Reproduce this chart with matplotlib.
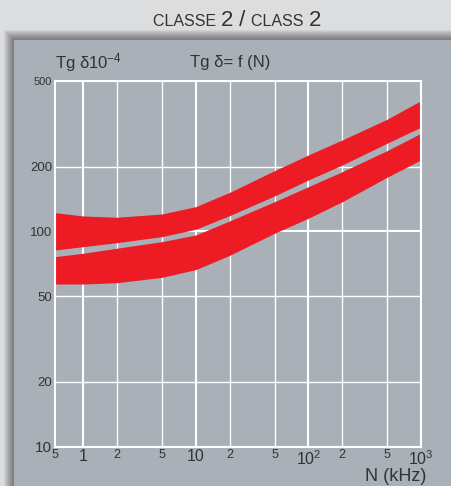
import numpy as np
import matplotlib
matplotlib.use("Agg")
import matplotlib.pyplot as plt
from matplotlib.patches import Rectangle
from matplotlib.offsetbox import TextArea, HPacker, AnnotationBbox

plt.rcParams['font.family'] = ['Liberation Sans', 'DejaVu Sans']
plt.rcParams['mathtext.fontset'] = 'custom'
plt.rcParams['mathtext.rm'] = 'Liberation Sans'
plt.rcParams['mathtext.it'] = 'Liberation Sans'

# frequency N in kHz
freq = [0.561, 1, 2, 5, 10, 20, 50, 100, 200, 500, 1000]
# Tg delta (x 10^-4), upper band
upper_top = [122.3, 118.0, 116.4, 120.6, 130.4, 152.0, 191.6, 226.8, 266.2, 332.2, 405.3]
upper_bot = [82.0, 85.0, 88.7, 94.6, 102.4, 118.5, 146.2, 173.5, 203.7, 257.0, 305.0]
# lower band
lower_top = [76.4, 79.2, 83.6, 89.7, 96.3, 112.0, 137.5, 161.5, 189.6, 237.4, 286.0]
lower_bot = [57.0, 57.0, 57.8, 61.2, 66.5, 77.5, 98.1, 115.2, 137.5, 178.6, 214.9]

xtick_pos = [0.561, 1, 2, 5, 10, 20, 50, 100, 200, 500, 1000]
xtick_lab = ["5", "1", "2", "5", "10", "2", "5", "10$^2$", "2", "5", "10$^3$"]
xtick_size = [9, 11.5, 9, 9, 11.5, 9, 9, 11.5, 9, 9, 11.5]
ytick_pos = [10, 20, 50, 100, 200, 500]
ytick_lab = ["10", "20", "50", "100", "200", "500"]
ytick_size = [11, 9.5, 9.5, 9.5, 9.5, 8]

W, H = 452, 486
bg = "#dcdddf"
panel = "#a9b0b7"
red = "#ed1c24"
txt = "#333333"

fig = plt.figure(figsize=(W / 100, H / 100), dpi=100)
fig.patch.set_facecolor(bg)

# panel shadow
for s in range(10, 0, -1):
    fig.add_artist(Rectangle(((14 - s) / W, 0), 1, (H - 40 + s) / H,
                             transform=fig.transFigure, facecolor="black",
                             alpha=0.05, edgecolor="none", zorder=-10))
fig.add_artist(Rectangle((14 / W, 0), 1, (H - 40) / H, transform=fig.transFigure,
                         facecolor=panel, edgecolor="none", zorder=-5))

ax = fig.add_axes([55 / W, 1 - 446.7 / H, (421 - 55) / W, (446.7 - 81) / H])
ax.set_facecolor(panel)
ax.set_xscale("log")
ax.set_yscale("log")
ax.set_xlim(0.561, 1000)
ax.set_ylim(10, 500)

# grid
for x in [1, 2, 5, 10, 20, 50, 100, 200, 500]:
    lw = 1.5 if x in (1, 10, 100) else 1.0
    ax.axvline(x, color="white", lw=lw, zorder=1)
for y in [20, 50, 100, 200]:
    lw = 1.5 if y == 100 else 1.0
    ax.axhline(y, color="white", lw=lw, zorder=1)

ax.fill_between(freq, upper_bot, upper_top, color=red, lw=0, zorder=2)
ax.fill_between(freq, lower_bot, lower_top, color=red, lw=0, zorder=2)

for sp in ax.spines.values():
    sp.set_color("white")
    sp.set_linewidth(1.5)
    sp.set_zorder(3)

ax.xaxis.set_minor_locator(matplotlib.ticker.NullLocator())
ax.yaxis.set_minor_locator(matplotlib.ticker.NullLocator())
ax.set_xticks(xtick_pos)
ax.set_xticklabels(xtick_lab)
ax.set_yticks(ytick_pos)
ax.set_yticklabels(ytick_lab)
ax.tick_params(length=0, colors=txt, pad=2)
for lab, s in zip(ax.get_xticklabels(), xtick_size):
    lab.set_fontsize(s)
for lab, s in zip(ax.get_yticklabels(), ytick_size):
    lab.set_fontsize(s)

fig.text(55 / W, 1 - 63 / H, "Tg δ10$^{-4}$", fontsize=12, color=txt, va="center")
fig.text(190 / W, 1 - 63 / H, "Tg δ= f (N)", fontsize=12, color=txt, va="center")
fig.text(426 / W, 1 - 476 / H, "N (kHz)", fontsize=13, color=txt, va="center", ha="right")

# title with small caps
parts = [("CLASSE ", 11.5), ("2", 16), (" / ", 16), ("CLASS ", 11.5), ("2", 16)]
boxes = [TextArea(t, textprops=dict(fontsize=s, color=txt)) for t, s in parts]
pack = HPacker(children=boxes, align="baseline", pad=0, sep=0)
ab = AnnotationBbox(pack, (237 / W, 1 - 20 / H), xycoords="figure fraction",
                    frameon=False, box_alignment=(0.5, 0.5))
fig.add_artist(ab)

fig.savefig("out.png", dpi=100, facecolor=bg)
